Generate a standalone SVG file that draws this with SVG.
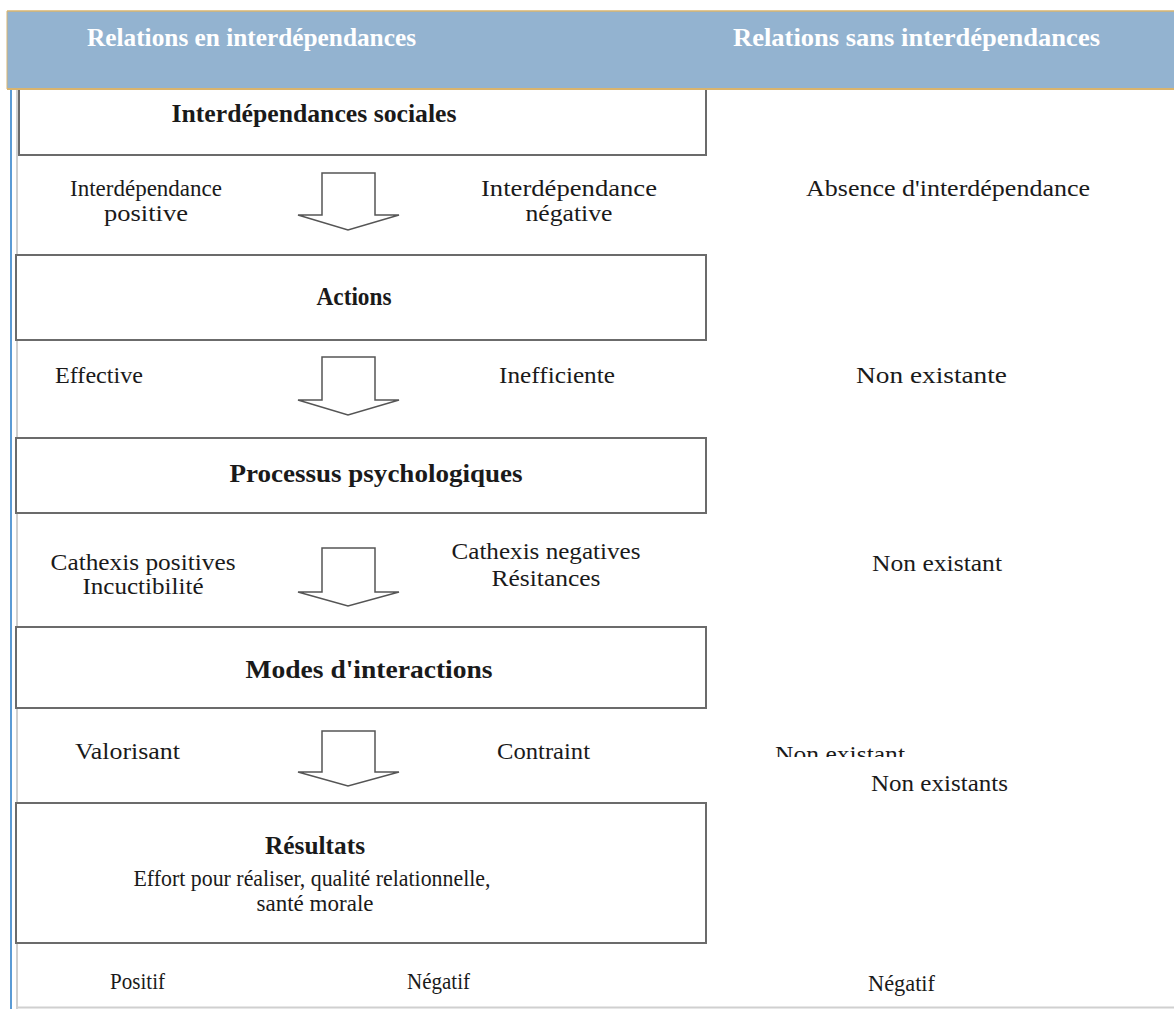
<svg xmlns="http://www.w3.org/2000/svg" width="1174" height="1009" viewBox="0 0 1174 1009">
<defs>
<style>
.t{font-family:"Liberation Serif","DejaVu Serif",serif;font-size:22.5px;fill:#1a1a1a}
.b{font-weight:bold;font-size:25px}
.h{font-family:"Liberation Serif","DejaVu Serif",serif;font-weight:bold;font-size:26px;fill:#ffffff}
.box{fill:#ffffff;stroke:#6b6b6b;stroke-width:2}
.arr{fill:#ffffff;stroke:#555;stroke-width:1.5;stroke-linejoin:miter}
</style>
</defs>
<rect width="1174" height="1009" fill="#ffffff"/>
<g id="frame">
<line x1="11" y1="88" x2="11" y2="1009" stroke="#5b9bd5" stroke-width="2"/>
<line x1="17" y1="88" x2="17" y2="1009" stroke="#cfcfcf" stroke-width="2"/>
<line x1="17" y1="1007.5" x2="1174" y2="1007.5" stroke="#d0d0d0" stroke-width="2"/>
</g>
<g id="box1"><rect class="box" x="19" y="80" width="687" height="75"/>
<text class="t b" x="314" y="122" text-anchor="middle" textLength="285" lengthAdjust="spacingAndGlyphs">Interdépendances sociales</text></g>
<g id="header">
<rect x="7" y="11" width="1167" height="78" fill="#93b3d0"/>
<line x1="7" y1="11" x2="1174" y2="11" stroke="#d9b46e" stroke-width="1.5"/>
<line x1="7" y1="89" x2="1174" y2="89" stroke="#d9b46e" stroke-width="2"/>
<line x1="7" y1="11" x2="7" y2="89" stroke="#d9b46e" stroke-width="1"/>
<text class="h" x="87" y="46" textLength="329" lengthAdjust="spacingAndGlyphs">Relations en interdépendances</text>
<text class="h" x="733" y="46" textLength="367" lengthAdjust="spacingAndGlyphs">Relations sans interdépendances</text>
</g>
<g id="box2"><rect class="box" x="16" y="255" width="690" height="85"/>
<text class="t b" x="354" y="305" text-anchor="middle" textLength="75" lengthAdjust="spacingAndGlyphs">Actions</text></g>
<g id="box3"><rect class="box" x="16" y="438" width="690" height="75"/>
<text class="t b" x="376" y="482" text-anchor="middle" textLength="293" lengthAdjust="spacingAndGlyphs">Processus psychologiques</text></g>
<g id="box4"><rect class="box" x="16" y="627" width="690" height="81"/>
<text class="t b" x="369" y="678" text-anchor="middle" textLength="247" lengthAdjust="spacingAndGlyphs">Modes d'interactions</text></g>
<g id="box5"><rect class="box" x="16" y="803" width="690" height="140"/>
<text class="t b" x="315" y="854" text-anchor="middle" textLength="100" lengthAdjust="spacingAndGlyphs">Résultats</text>
<text class="t" x="312" y="886" text-anchor="middle" textLength="357" lengthAdjust="spacingAndGlyphs">Effort pour réaliser, qualité relationnelle,</text>
<text class="t" x="315" y="911" text-anchor="middle" textLength="117" lengthAdjust="spacingAndGlyphs">santé morale</text></g>
<g id="connectors">
<polygon class="arr" points="322,173 375,173 375,215 399,215 348,230 298,215 322,215"/>
<polygon class="arr" points="322,357 375,357 375,400 399,400 348,415 298,400 322,400"/>
<polygon class="arr" points="322,548 375,548 375,592 399,592 348,606 298,592 322,592"/>
<polygon class="arr" points="322,731 375,731 375,772 399,772 348,786 298,772 322,772"/>
</g>
<g id="labels">
<text class="t" x="146" y="196" text-anchor="middle" textLength="152" lengthAdjust="spacingAndGlyphs">Interdépendance</text>
<text class="t" x="146" y="221" text-anchor="middle" textLength="84" lengthAdjust="spacingAndGlyphs">positive</text>
<text class="t" x="569" y="196" text-anchor="middle" textLength="176" lengthAdjust="spacingAndGlyphs">Interdépendance</text>
<text class="t" x="569" y="221" text-anchor="middle" textLength="87" lengthAdjust="spacingAndGlyphs">négative</text>
<text class="t" x="948" y="196" text-anchor="middle" textLength="284" lengthAdjust="spacingAndGlyphs">Absence d'interdépendance</text>
<text class="t" x="55" y="383" textLength="88" lengthAdjust="spacingAndGlyphs">Effective</text>
<text class="t" x="499" y="383" textLength="116" lengthAdjust="spacingAndGlyphs">Inefficiente</text>
<text class="t" x="856" y="383" textLength="151" lengthAdjust="spacingAndGlyphs">Non existante</text>
<text class="t" x="143" y="570" text-anchor="middle" textLength="185" lengthAdjust="spacingAndGlyphs">Cathexis positives</text>
<text class="t" x="143" y="594" text-anchor="middle" textLength="121" lengthAdjust="spacingAndGlyphs">Incuctibilité</text>
<text class="t" x="546" y="559" text-anchor="middle" textLength="189" lengthAdjust="spacingAndGlyphs">Cathexis negatives</text>
<text class="t" x="546" y="586" text-anchor="middle" textLength="109" lengthAdjust="spacingAndGlyphs">Résitances</text>
<text class="t" x="872" y="571" textLength="130" lengthAdjust="spacingAndGlyphs">Non existant</text>
<text class="t" x="75" y="759" textLength="105" lengthAdjust="spacingAndGlyphs">Valorisant</text>
<text class="t" x="497" y="759" textLength="93" lengthAdjust="spacingAndGlyphs">Contraint</text>
<svg x="700" y="700" width="300" height="57" overflow="hidden"><text class="t" x="75" y="62" textLength="130" lengthAdjust="spacingAndGlyphs" fill="#1f1f3a">Non existant</text></svg>
<text class="t" x="871" y="791" textLength="137" lengthAdjust="spacingAndGlyphs">Non existants</text>
<text class="t" x="110" y="989" textLength="55" lengthAdjust="spacingAndGlyphs">Positif</text>
<text class="t" x="407" y="989" textLength="63" lengthAdjust="spacingAndGlyphs">Négatif</text>
<text class="t" x="868" y="991" textLength="67" lengthAdjust="spacingAndGlyphs">Négatif</text>
</g>
</svg>
